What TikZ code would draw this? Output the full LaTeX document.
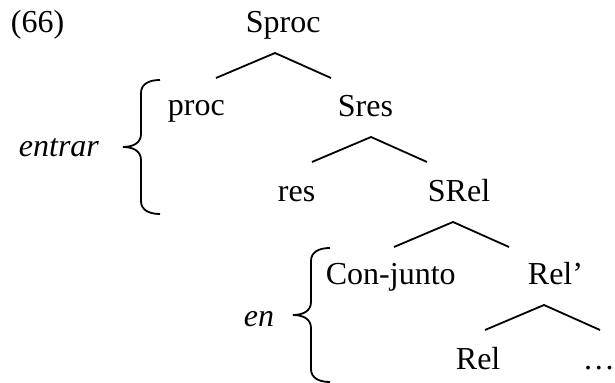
\documentclass[tikz,border=0pt]{standalone}
\usepackage{fontspec}
\setmainfont{Liberation Serif}
\begin{document}
\begin{tikzpicture}[x=0.5pt,y=-0.5pt,line width=0.9pt,
  every node/.style={anchor=base west,inner sep=0pt,font=\fontsize{16}{19}\selectfont},
  llave/.pic={\draw (37,-67) .. controls (26,-67) and (18,-63) .. (18,-54) -- (18,-13)
      .. controls (18,-4) and (10,0) .. (0,0) .. controls (10,0) and (18,4) .. (18,13)
      -- (18,54) .. controls (18,63) and (26,67) .. (37,67);}]
  \useasboundingbox (0,0) rectangle (615,383);
  \node (num) at (10,33) {(66)};
  \node (sproc) at (245,33) {Sproc};
  \node (proc) at (167,116) {proc};
  \node (sres) at (337,117) {Sres};
  \node (res) at (277,202) {res};
  \node (srel) at (427,202) {SRel};
  \node (conj) at (325,285) {Con-junto};
  \node (relp) at (527,285) {Rel’};
  \node (rel) at (455,370) {Rel};
  \node (dots) at (582,370) {…};
  \node (entrar) at (18,157) {\itshape entrar};
  \node (en) at (243,327) {\itshape en};
  \foreach \n/\dx in {sproc/30,sres/34,srel/26,relp/17}
    \draw ([shift={(\dx,20)}]\n.base west) +(-59,25) -- +(0,0) -- +(56,25);
  \pic at (123,147) {llave};
  \pic at (293,315) {llave};
\end{tikzpicture}
\end{document}
